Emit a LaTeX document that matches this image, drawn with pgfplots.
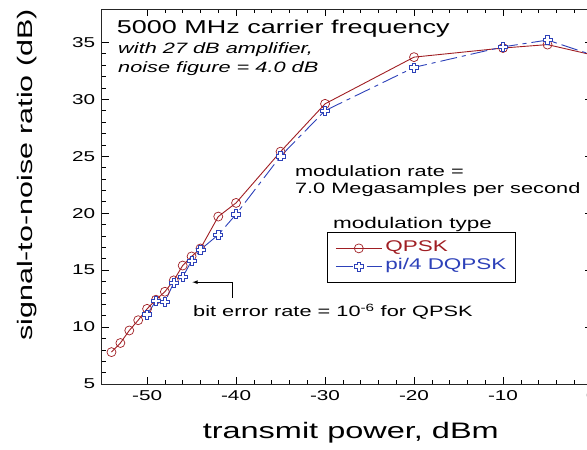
\documentclass[border=0pt]{standalone}
\usepackage{fontspec}
\setmainfont{Liberation Sans}[FakeStretch=1.45]
\usepackage{pgfplots}
\pgfplotsset{compat=1.18}
\definecolor{qred}{RGB}{160,30,35}
\definecolor{qblue}{RGB}{45,65,185}
\pgfdeclareplotmark{pluso}{%
  \pgfpathmoveto{\pgfqpoint{0.38\pgfplotmarksize}{\pgfplotmarksize}}%
  \pgfpathlineto{\pgfqpoint{-0.38\pgfplotmarksize}{\pgfplotmarksize}}%
  \pgfpathlineto{\pgfqpoint{-0.38\pgfplotmarksize}{0.38\pgfplotmarksize}}%
  \pgfpathlineto{\pgfqpoint{-\pgfplotmarksize}{0.38\pgfplotmarksize}}%
  \pgfpathlineto{\pgfqpoint{-\pgfplotmarksize}{-0.38\pgfplotmarksize}}%
  \pgfpathlineto{\pgfqpoint{-0.38\pgfplotmarksize}{-0.38\pgfplotmarksize}}%
  \pgfpathlineto{\pgfqpoint{-0.38\pgfplotmarksize}{-\pgfplotmarksize}}%
  \pgfpathlineto{\pgfqpoint{0.38\pgfplotmarksize}{-\pgfplotmarksize}}%
  \pgfpathlineto{\pgfqpoint{0.38\pgfplotmarksize}{-0.38\pgfplotmarksize}}%
  \pgfpathlineto{\pgfqpoint{\pgfplotmarksize}{-0.38\pgfplotmarksize}}%
  \pgfpathlineto{\pgfqpoint{\pgfplotmarksize}{0.38\pgfplotmarksize}}%
  \pgfpathlineto{\pgfqpoint{0.38\pgfplotmarksize}{0.38\pgfplotmarksize}}%
  \pgfpathclose
  \pgfusepathqfillstroke}
\begin{document}
\begin{tikzpicture}
\begin{axis}[
  at={(0,0)}, anchor=south west,
  scale only axis, width=490.3bp, height=374.7bp,
  xmin=-55.1, xmax=0, ymin=5, ymax=37.9,
  xtick={-50,-40,-30,-20,-10,0},
  xticklabels={-50,-40,-30,-20,-10,0},
  ytick={5,10,15,20,25,30,35},
  yticklabels={5,10,15,20,25,30,35},
  minor x tick num=4, minor y tick num=4,
  tick align=inside, tick pos=both,
  major tick length=7bp, minor tick length=4bp,
  axis line style={black!85, line width=0.8bp},
  every tick/.style={black, line width=0.6bp},
  tick label style={font=\fontsize{14.3bp}{16bp}\selectfont},
  /pgf/number format/assume math mode=true,
  xticklabel style={yshift=-3bp},
  yticklabel style={xshift=-3bp},
  xlabel={transmit power, dBm},
  xlabel style={font=\fontsize{22.4bp}{26bp}\selectfont, at={(axis description cs:0.508,-0.131)}, anchor=center},
  ylabel={signal-to-noise ratio (dB)},
  ylabel style={font=\fontsize{21bp}{24bp}\selectfont, at={(axis description cs:-0.153,0.558)}, anchor=center},
  legend style={at={(axis description cs:0.4595,0.4057)}, anchor=north west, draw=black, line width=0.8bp,
    font=\fontsize{15.5bp}{17bp}\selectfont, inner xsep=8bp, inner ysep=7bp,
    nodes={inner sep=1bp, text height=11bp, text depth=5bp}, row sep=0bp, column sep=2bp},
  legend cell align=left,
  legend image code/.code={\draw[mark repeat=2,mark phase=2,#1] plot coordinates {(0bp,0bp) (23bp,0bp) (46bp,0bp)};},
]
\addplot[color=qred, line width=0.9bp, mark=o, mark size=4.5bp, mark options={solid, line width=0.7bp}] coordinates {
(-54,7.8) (-53,8.6) (-52,9.7) (-51,10.6) (-50,11.6) (-49,12.4) (-48,13.1) (-47,14.1)
(-46,15.4) (-45,16.2) (-44,16.9) (-42,19.7) (-40,20.9) (-35,25.4) (-30,29.6)
(-20,33.7) (-10,34.5) (-5,34.8) (0,33.9)};
\addlegendentry{\textcolor{qred}{QPSK}}
\addplot[color=qblue, line width=0.9bp, dash pattern=on 17bp off 5bp on 4bp off 5bp, mark=pluso, mark size=4.5bp, mark options={solid, fill=white, line width=0.7bp}] coordinates {
(-50,11.1) (-49,12.3) (-48,12.2) (-47,13.9) (-46,14.4) (-45,15.8) (-44,16.8)
(-42,18.1) (-40,19.9) (-35,25.0) (-30,29.0) (-20,32.8) (-10,34.6) (-5,35.2) (0,33.9)};
\addlegendentry{\textcolor{qblue}{pi/4 DQPSK}}
\node[anchor=base west, font=\fontsize{18.6bp}{20bp}\selectfont, inner sep=0pt] at (axis description cs:0.0306,0.9367) {5000 MHz carrier frequency};
\node[anchor=base west, font=\fontsize{15bp}{17bp}\selectfont\itshape, inner sep=0pt] at (axis description cs:0.0333,0.8807) {with 27 dB amplifier,};
\node[anchor=base west, font=\fontsize{15bp}{17bp}\selectfont\itshape, inner sep=0pt] at (axis description cs:0.0333,0.8316) {noise figure = 4.0 dB};
\node[anchor=base west, font=\fontsize{15bp}{17bp}\selectfont, inner sep=0pt] at (axis description cs:0.394,0.5533) {modulation rate =};
\node[anchor=base west, font=\fontsize{15bp}{17bp}\selectfont, inner sep=0pt] at (axis description cs:0.394,0.509) {7.0 Megasamples per second};
\node[anchor=base west, font=\fontsize{15.5bp}{17bp}\selectfont, inner sep=0pt] at (axis description cs:0.4718,0.4137) {modulation type};
\node[anchor=base west, font=\fontsize{15bp}{17bp}\selectfont, inner sep=0pt] at (axis description cs:0.1862,0.1796) {bit error rate = 10\textsuperscript{-6} for QPSK};
\draw[black, line width=0.8bp, -latex] (axis cs:-40.45,12.56) -- (axis cs:-40.45,13.94) -- (axis cs:-44.9,13.94);
\end{axis}
\pgfresetboundingbox
\useasboundingbox (-101.7bp,-66bp) rectangle (485.3bp,384bp);
\end{tikzpicture}
\end{document}
